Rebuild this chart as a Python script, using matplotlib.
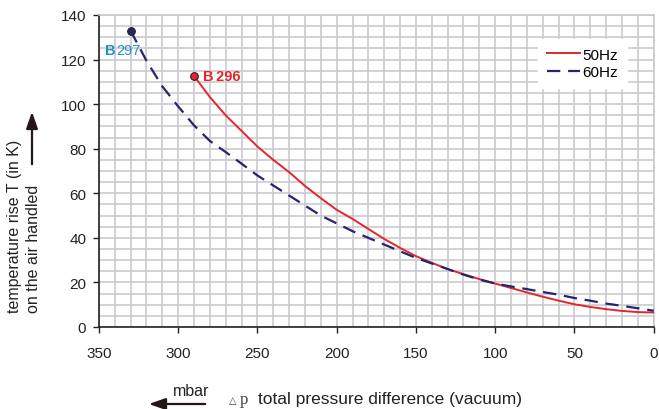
import numpy as np
import matplotlib
matplotlib.use("Agg")
import matplotlib.pyplot as plt
from matplotlib.ticker import MultipleLocator

# pressure difference (mbar) and temperature rise (K)
dp_50 = [290, 280, 270, 260, 250, 240, 230, 220, 210, 200, 190, 180, 170, 160,
         150, 140, 130, 120, 110, 100, 90, 80, 70, 60, 50, 40, 30, 20, 10, 0]
t_50 = [112.7, 103.2, 95, 88, 81, 75, 69.5, 63.3, 57.8, 52.6, 48.5, 44, 39.5, 35.5,
        31.8, 28.8, 26, 23.7, 21.5, 19.5, 17.5, 15.5, 13.6, 11.8, 10.2, 9, 8, 7.2, 6.7, 6.5]

dp_60 = [330, 320, 310, 300, 290, 280, 270, 260, 250, 240, 230, 220, 210, 200, 190,
         180, 170, 160, 150, 140, 130, 120, 110, 100, 90, 80, 70, 60, 50, 40, 30,
         20, 10, 0]
t_60 = [133, 119.5, 108, 99, 90.5, 83.5, 78.5, 73.3, 68, 63.5, 59, 54.5, 50, 46.5, 43,
        40, 37, 34, 31, 28.5, 26, 23.5, 21.3, 19.5, 18.2, 17, 15.7, 14.5, 13, 11.8, 10.5,
        9.5, 8.4, 7.3]

legend_labels = ["50Hz", "60Hz"]
pump_50 = ("B", " 296")
pump_60 = ("B", "297")

plt.rcParams['font.family'] = ['Liberation Sans', 'DejaVu Sans']

red = '#e3262b'
navy = '#25246e'
grid_c = '#c9cacf'
ink = '#222222'

fig = plt.figure(figsize=(6.59, 4.10), dpi=100)
ax = fig.add_axes([0.150, 0.200, 0.842, 0.761])

ax.plot(dp_50, t_50, '-', color=red, lw=1.4, label=legend_labels[0], zorder=3)
ax.plot(dp_60, t_60, '--', color=navy, lw=1.6, dashes=(6, 3.5), label=legend_labels[1], zorder=3)
ax.plot(dp_50[0], t_50[0], 'o', ms=5.5, color=red, mec=ink, mew=0.8, zorder=4)
ax.plot(dp_60[0], t_60[0], 'o', ms=5.5, color=navy, mec=ink, mew=0.8, zorder=4)

ax.set_xlim(350, 0)
ax.set_ylim(0, 140)
ax.xaxis.set_major_locator(MultipleLocator(50))
ax.xaxis.set_minor_locator(MultipleLocator(10))
ax.yaxis.set_major_locator(MultipleLocator(20))
ax.yaxis.set_minor_locator(MultipleLocator(5))
ax.grid(which='both', color=grid_c, lw=1.2)
ax.set_axisbelow(True)
ax.tick_params(which='minor', length=0)
ax.tick_params(which='major', direction='out', length=4, width=1, labelsize=11, colors=ink)
ax.tick_params(axis='x', pad=10)
ax.tick_params(axis='y', pad=5)
for s in ['top', 'right']:
    ax.spines[s].set_color(grid_c)
    ax.spines[s].set_linewidth(1.2)
for s in ['left', 'bottom']:
    ax.spines[s].set_color(ink)
    ax.spines[s].set_linewidth(1.2)

# pump labels
ax.annotate(pump_60[0], (346, 124.5), fontsize=10.5, color='#1e8fd0', fontweight='bold', va='center')
ax.annotate(pump_60[1], (339, 124.5), fontsize=10.5, color='#1e8fd0', va='center')
ax.annotate(pump_50[0], (284.5, 112.5), fontsize=10.5, color=red, fontweight='bold', va='center')
ax.annotate(pump_50[1], (278.5, 112.5), fontsize=10.5, color=red, fontweight='bold', va='center')

ax.legend(loc='upper left', bbox_to_anchor=(0.778, 0.947), frameon=True, fancybox=False,
          edgecolor='white', facecolor='white', framealpha=1, fontsize=11,
          handlelength=2.2, handletextpad=0.15, borderpad=0.55, labelspacing=0.25)

# axis titles
fig.text(15 / 659, 1 - 313 / 410, 'temperature rise T (in K)', rotation=90,
         ha='center', va='bottom', fontsize=11.5, color=ink)
fig.text(33 / 659, 1 - 313 / 410, 'on the air handled', rotation=90,
         ha='center', va='bottom', fontsize=11.5, color=ink)
fig.text(191 / 659, 1 - 396 / 410, 'mbar', ha='center', va='baseline', fontsize=11.5, color=ink)
fig.text(229 / 659, 1 - 404 / 410, '\u25b3', ha='left', va='baseline', fontsize=7,
         family='DejaVu Sans', color='#444444')
fig.text(240 / 659, 1 - 404 / 410, 'p', ha='left', va='baseline', fontsize=12,
         family='Liberation Serif', color='#444444')
fig.text(258 / 659, 1 - 404 / 410, 'total pressure difference (vacuum)', ha='left', va='baseline',
         fontsize=12.5, color=ink)

arrow_kw = dict(arrowstyle='-|>,head_length=1.0,head_width=0.35', color='#231815', lw=1.6)
ax.annotate('', xy=(32 / 659, 1 - 110 / 410), xytext=(32 / 659, 1 - 168 / 410),
            xycoords='figure fraction', textcoords='figure fraction', arrowprops=arrow_kw,
            annotation_clip=False)
ax.annotate('', xy=(146 / 659, 1 - 405 / 410), xytext=(208 / 659, 1 - 405 / 410),
            xycoords='figure fraction', textcoords='figure fraction', arrowprops=arrow_kw,
            annotation_clip=False)

fig.savefig('out.png', dpi=100)
